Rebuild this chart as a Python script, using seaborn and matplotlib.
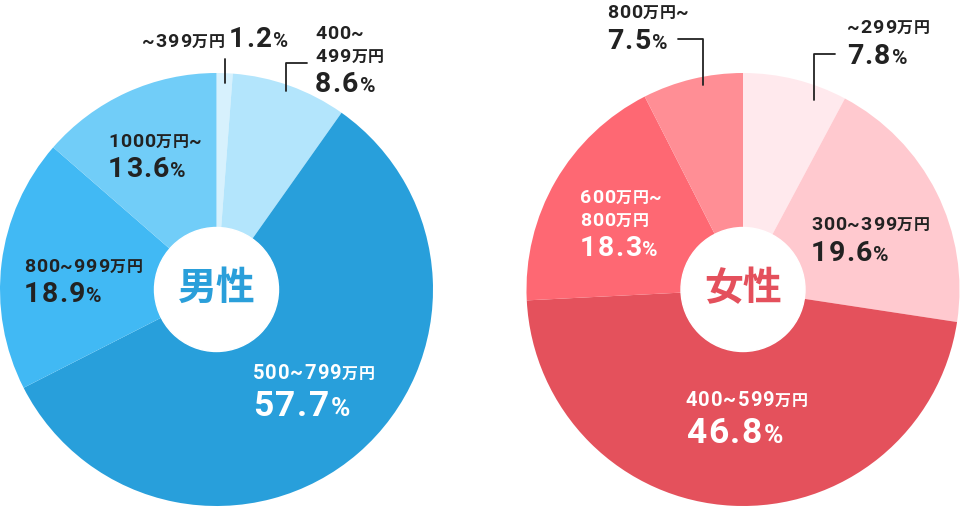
import matplotlib
matplotlib.use("Agg")
import matplotlib.pyplot as plt
import seaborn as sns

# ---- data ----
male_labels = ["~399万円", "400~499万円", "500~799万円", "800~999万円", "1000万円~"]
male_values = [1.2, 8.6, 57.7, 18.9, 13.6]
male_colors = ["#d7f1fd", "#b3e5fc", "#289fdb", "#41b9f4", "#71cdf8"]

female_labels = ["~299万円", "300~399万円", "400~599万円", "600万円~800万円", "800万円~"]
female_values = [7.8, 19.6, 46.8, 18.3, 7.5]
female_colors = ["#ffe9ed", "#ffc9cf", "#e4515c", "#fe6873", "#ff8e95"]

male_title = "男性"
female_title = "女性"

sns.set_theme(style="white")
FAM = ["Roboto", "Noto Sans CJK JP", "DejaVu Sans"]
plt.rcParams["font.family"] = FAM

W, H = 960, 507
fig = plt.figure(figsize=(9.6, 5.07), dpi=100)
ax = fig.add_axes([0, 0, 1, 1])

def Y(y):
    return H - y

R = 216.5
centers = [(216.5, Y(289.5)), (743, Y(289.5))]

for (cx, cy), vals, cols in [(centers[0], male_values, male_colors),
                             (centers[1], female_values, female_colors)]:
    ax.pie(vals, colors=cols, startangle=90, counterclock=False,
           center=(cx, cy), radius=R, frame=True,
           wedgeprops=dict(linewidth=0))
    ax.add_patch(plt.Circle((cx, cy), 62, color="white", zorder=5))

ax.set_xlim(0, W)
ax.set_ylim(0, H)
ax.set_aspect("equal")
ax.axis("off")

ax.text(centers[0][0], centers[0][1] + 1, male_title, ha="center", va="center",
        fontsize=28, fontweight="bold", color="#2a9fda", zorder=6,
        family=["Noto Sans CJK JP"])
ax.text(centers[1][0], centers[1][1] + 1, female_title, ha="center", va="center",
        fontsize=28, fontweight="bold", color="#e4505c", zorder=6,
        family=["Noto Sans CJK JP"])

fig.canvas.draw()
renderer = fig.canvas.get_renderer()

DARK = "#222222"

def ink_w(s, size):
    t = ax.text(0, 0, s, fontsize=size, fontweight="bold", ha="left", va="baseline")
    w = t.get_window_extent(renderer).width
    t.remove()
    return w

def split_label(s, num_size, unit_size):
    parts = []
    buf = ""
    for ch in s:
        if ch in "万円":
            if buf:
                parts.append((buf, num_size))
                buf = ""
            parts.append((ch, unit_size))
        else:
            buf += ch
    if buf:
        parts.append((buf, num_size))
    return parts

TRACK = 0.045  # letter spacing in em

def runs(x, y, parts, color):
    for s, size in parts:
        px = size * 100 / 72.0
        tr = TRACK * px
        for i, ch in enumerate(s):
            off = ink_w(s[:i + 1], size) - ink_w(ch, size)
            ax.text(x + off + i * tr, Y(y), ch, fontsize=size, fontweight="bold",
                    ha="left", va="baseline", color=color, zorder=7)
        x += ink_w(s, size) + len(s) * tr
    return x

def pct(v, size):
    return [(f"{v:.1f}", size), ("%", size * 0.74)]

S_LAB, S_UNIT = 14, 11.5
W_LAB, W_UNIT = 14.5, 11.5
S_PCT = 20.5
S_BIG = 25.5

# ---- male labels ----
runs(142, 47, split_label(male_labels[0], S_LAB, S_UNIT), DARK)
runs(229, 47, pct(male_values[0], 20), DARK)
ax.plot([225, 225], [Y(59), Y(83)], color=DARK, lw=1.3, zorder=7)

runs(315, 39, split_label("400~", S_LAB, S_UNIT), DARK)
runs(315, 62, split_label("499万円", S_LAB, S_UNIT), DARK)
runs(315, 92, pct(male_values[1], S_PCT), DARK)
ax.plot([307, 286, 286], [Y(63), Y(63), Y(91)], color=DARK, lw=1.3, zorder=7)

runs(253, 379, split_label(male_labels[2], W_LAB, W_UNIT), "white")
runs(253, 416, pct(male_values[2], S_BIG), "white")

runs(24, 272, split_label(male_labels[3], S_LAB, S_UNIT), DARK)
runs(24, 302, pct(male_values[3], S_PCT), DARK)

runs(108, 147, split_label(male_labels[4], S_LAB, S_UNIT), DARK)
runs(108, 177, pct(male_values[4], S_PCT), DARK)

# ---- female labels ----
runs(847, 33, split_label(female_labels[0], S_LAB, S_UNIT), DARK)
runs(847, 64, pct(female_values[0], S_PCT), DARK)
ax.plot([835, 814, 814], [Y(54), Y(54), Y(100)], color=DARK, lw=1.3, zorder=7)

runs(811, 230, split_label(female_labels[1], S_LAB, S_UNIT), DARK)
runs(811, 261, pct(female_values[1], S_PCT), DARK)

runs(686, 406, split_label(female_labels[2], W_LAB, W_UNIT), "white")
runs(686, 443, pct(female_values[2], S_BIG), "white")

runs(580, 203, split_label("600万円~", S_LAB, S_UNIT), "white")
runs(580, 226, split_label("800万円", S_LAB, S_UNIT), "white")
runs(580, 256, pct(female_values[3], S_PCT), "white")

runs(607, 18, split_label(female_labels[4], S_LAB, S_UNIT), DARK)
runs(607, 49, pct(female_values[4], S_PCT), DARK)
ax.plot([678, 703, 703], [Y(39), Y(39), Y(85)], color=DARK, lw=1.3, zorder=7)

fig.savefig("out.png", dpi=100)
